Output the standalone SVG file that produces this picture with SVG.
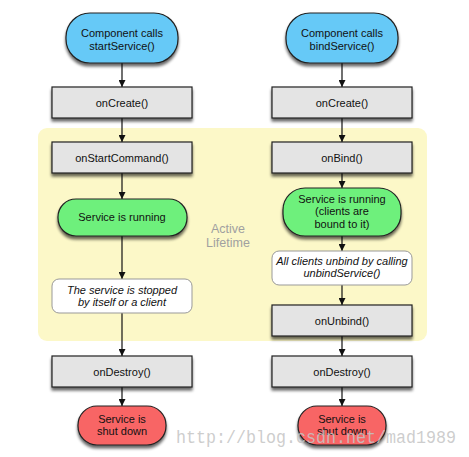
<svg xmlns="http://www.w3.org/2000/svg" width="469" height="457" viewBox="0 0 469 457">
<defs>
<filter id="sh" x="-20%" y="-20%" width="140%" height="160%">
<feGaussianBlur in="SourceAlpha" stdDeviation="1.8"/>
<feOffset dx="0" dy="2.5" result="b"/>
<feComponentTransfer><feFuncA type="linear" slope="0.6"/></feComponentTransfer>
<feMerge><feMergeNode/><feMergeNode in="SourceGraphic"/></feMerge>
</filter>
<marker id="ah" viewBox="0 0 10 10" refX="10" refY="5" markerWidth="7" markerHeight="7" markerUnits="userSpaceOnUse" orient="auto">
<path d="M0,0 L10,5 L0,10 z" fill="#111"/>
</marker>
</defs>
<style>
text{font-family:"Liberation Sans",Arial,sans-serif;font-size:11px;fill:#111;text-anchor:middle}
.box{fill:#e4e4e4;stroke:#222;stroke-width:1.2;filter:url(#sh)}
.blue{fill:#66c9f7;stroke:#222;stroke-width:1.2;filter:url(#sh)}
.green{fill:#6ef07c;stroke:#222;stroke-width:1.2;filter:url(#sh)}
.red{fill:#f86565;stroke:#222;stroke-width:1.2;filter:url(#sh)}
.note{fill:#fff;stroke:#999;stroke-width:1}
.it{font-style:italic}
.conn line{stroke:#111;stroke-width:1.2;marker-end:url(#ah)}
</style>
<rect width="469" height="457" fill="#fff"/>
<rect id="active-lifetime" x="38" y="128" width="389" height="213" rx="9" fill="#fcf8c8"/>
<g id="active-label"><text x="228" y="233" style="fill:#a0a0a0;font-size:12.5px">Active</text><text x="228" y="247" style="fill:#a0a0a0;font-size:12.5px">Lifetime</text></g>

<g class="conn">
<line x1="122" y1="63" x2="122" y2="87"/>
<line x1="122" y1="118" x2="122" y2="142"/>
<line x1="122" y1="173" x2="122" y2="199"/>
<line x1="122" y1="236" x2="122" y2="279"/>
<line x1="122" y1="313" x2="122" y2="356"/>
<line x1="122" y1="387" x2="122" y2="406"/>
<line x1="342" y1="63" x2="342" y2="87"/>
<line x1="342" y1="118" x2="342" y2="142"/>
<line x1="342" y1="173" x2="342" y2="188"/>
<line x1="342" y1="236" x2="342" y2="251"/>
<line x1="342" y1="285" x2="342" y2="305"/>
<line x1="342" y1="336" x2="342" y2="356"/>
<line x1="342" y1="387" x2="342" y2="406"/>
</g>

<g id="start-call"><rect class="blue" x="66" y="13" width="112" height="50" rx="24"/><text x="122" y="37">Component calls</text><text x="122" y="50">startService()</text></g>
<g id="start-oncreate"><rect class="box" x="52" y="87" width="140" height="31"/><text x="122" y="107">onCreate()</text></g>
<g id="start-onstartcommand"><rect class="box" x="52" y="142" width="140" height="31"/><text x="122" y="162">onStartCommand()</text></g>
<g id="start-running"><rect class="green" x="58" y="199" width="129" height="37" rx="18"/><text x="122" y="221">Service is running</text></g>
<g id="start-stopped"><rect class="note" x="52" y="279" width="140" height="34" rx="7"/><text class="it" x="122" y="294">The service is stopped</text><text class="it" x="122" y="306">by itself or a client</text></g>
<g id="start-ondestroy"><rect class="box" x="52" y="356" width="140" height="31"/><text x="122" y="376">onDestroy()</text></g>
<g id="start-shutdown"><rect class="red" x="78" y="406" width="88" height="39" rx="19"/><text x="122" y="423">Service is</text><text x="122" y="435">shut down</text></g>

<g id="bind-call"><rect class="blue" x="286" y="13" width="112" height="50" rx="24"/><text x="342" y="37">Component calls</text><text x="342" y="50">bindService()</text></g>
<g id="bind-oncreate"><rect class="box" x="272" y="87" width="140" height="31"/><text x="342" y="107">onCreate()</text></g>
<g id="bind-onbind"><rect class="box" x="272" y="142" width="140" height="31"/><text x="342" y="162">onBind()</text></g>
<g id="bind-running"><rect class="green" x="283" y="188" width="118" height="48" rx="22"/><text x="342" y="203">Service is running</text><text x="342" y="215">(clients are</text><text x="342" y="228">bound to it)</text></g>
<g id="bind-unbind-note"><rect class="note" x="272" y="251" width="140" height="34" rx="7"/><text class="it" x="342" y="265">All clients unbind by calling</text><text class="it" x="342" y="277">unbindService()</text></g>
<g id="bind-onunbind"><rect class="box" x="272" y="305" width="140" height="31"/><text x="342" y="325">onUnbind()</text></g>
<g id="bind-ondestroy"><rect class="box" x="272" y="356" width="140" height="31"/><text x="342" y="376">onDestroy()</text></g>
<g id="bind-shutdown"><rect class="red" x="298" y="406" width="88" height="39" rx="19"/><text x="342" y="423">Service is</text><text x="342" y="435">shut down</text></g>

<text x="176" y="443" style="font-family:'Liberation Mono','DejaVu Sans Mono',monospace;font-size:19px;fill:#c4c4c4;fill-opacity:0.85;text-anchor:start" textLength="280" lengthAdjust="spacingAndGlyphs">http://blog.csdn.net/mad1989</text>
</svg>
